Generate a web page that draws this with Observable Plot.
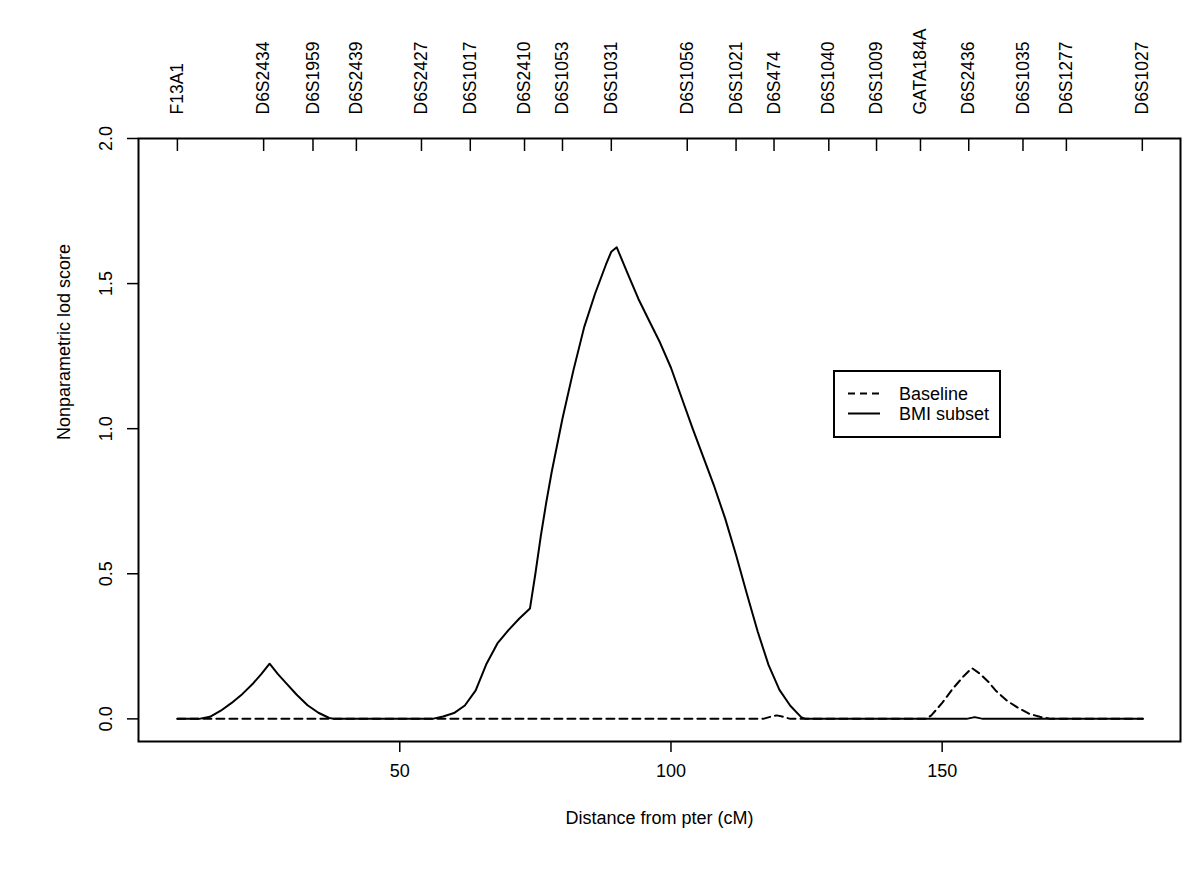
<!DOCTYPE html>
<html>
<head>
<meta charset="utf-8">
<script src="https://cdn.jsdelivr.net/npm/d3@7"></script>
<script src="https://cdn.jsdelivr.net/npm/@observablehq/plot@0.6"></script>
<style>
  body { margin: 0; background: #fff; font-family: "Liberation Sans", Arial, sans-serif; }
  #wrap { position: relative; width: 1200px; height: 872px; }
  #legend { position: absolute; left: 833px; top: 370px; }
</style>
</head>
<body>
<div id="wrap"></div>
<script>
// Marker names and positions (cM)
const markerNames = ["F13A1","D6S2434","D6S1959","D6S2439","D6S2427","D6S1017","D6S2410","D6S1053","D6S1031","D6S1056","D6S1021","D6S474","D6S1040","D6S1009","GATA184A","D6S2436","D6S1035","D6S1277","D6S1027"];
const markerCM = [9.0, 24.9, 34.0, 42.0, 54.0, 63.0, 73.0, 80.0, 89.0, 103.0, 112.0, 119.0, 129.1, 137.9, 146.0, 154.9, 164.9, 172.9, 186.9];

// BMI subset (solid)
const bmiCM  = [9, 13, 15, 17, 19, 21, 23, 24.5, 26, 27.5, 29, 31, 33, 35, 37, 38, 56, 58, 60, 62, 64, 66, 68, 70, 72, 74, 75, 76, 77, 78, 80, 82, 84, 86, 88, 89, 90, 92, 94, 96, 98, 100, 102, 104, 106, 108, 110, 112, 114, 116, 118, 120, 122, 124, 124.8, 154.5, 156, 157.5, 187];
const bmiLod = [0, 0, 0.007, 0.028, 0.055, 0.086, 0.123, 0.155, 0.19, 0.155, 0.124, 0.083, 0.047, 0.021, 0.003, 0, 0, 0.008, 0.02, 0.046, 0.098, 0.19, 0.26, 0.305, 0.345, 0.38, 0.5, 0.63, 0.745, 0.85, 1.035, 1.2, 1.35, 1.465, 1.565, 1.61, 1.625, 1.535, 1.447, 1.371, 1.296, 1.21, 1.105, 1.0, 0.9, 0.8, 0.69, 0.565, 0.43, 0.30, 0.185, 0.10, 0.045, 0.006, 0, 0, 0.006, 0, 0];

// Baseline (dashed)
const baseCM  = [9, 117, 118.5, 119.5, 120.5, 122, 147, 148, 150, 152, 154, 155.5, 157, 158.5, 160, 162, 164, 166, 168, 170, 187];
const baseLod = [0, 0, 0.008, 0.012, 0.008, 0, 0, 0.012, 0.055, 0.105, 0.148, 0.175, 0.155, 0.128, 0.095, 0.062, 0.038, 0.018, 0.007, 0, 0];

const xTicks = [50, 100, 150];
const yTicks = [0, 0.5, 1.0, 1.5, 2.0];
const seriesNames = ["Baseline", "BMI subset"];

const FS = 18;
const chart = Plot.plot({
  width: 1200,
  height: 872,
  marginLeft: 138,
  marginRight: 20,
  marginTop: 138,
  marginBottom: 131,
  style: { fontFamily: '"Liberation Sans", Arial, sans-serif', fontSize: FS + "px", color: "#000", background: "#fff" },
  x: { domain: [1.83, 193.94] },
  y: { domain: [-0.078, 2.0] },
  marks: [
    Plot.axisX(xTicks, { anchor: "bottom", tickSize: 11, tickPadding: 12, strokeWidth: 1.5, fontSize: FS, label: null }),
    Plot.axisY(yTicks, { anchor: "left", tickSize: 11, strokeWidth: 1.5, text: null, label: null }),
    Plot.text(yTicks, { y: d => d, text: d => d.toFixed(1), frameAnchor: "left", dx: -32, rotate: -90, fontSize: FS, lineAnchor: "middle", textAnchor: "middle" }),
    Plot.axisX(markerCM, { anchor: "top", tickSize: -12, strokeWidth: 1.5, text: null, label: null }),
    Plot.text(markerCM, { x: d => d, text: (d, i) => markerNames[i], frameAnchor: "top", dy: -24, rotate: -90, textAnchor: "start", lineAnchor: "middle", fontSize: 17.5 }),
    Plot.text(["Distance from pter (cM)"], { frameAnchor: "bottom", dy: 77, fontSize: FS, lineAnchor: "middle" }),
    Plot.text(["Nonparametric lod score"], { frameAnchor: "left", dx: -74, rotate: -90, fontSize: FS, lineAnchor: "middle" }),
    Plot.line(baseLod, { x: baseCM, y: baseLod, stroke: "#000", strokeWidth: 2, strokeDasharray: "8,5" }),
    Plot.line(bmiLod, { x: bmiCM, y: bmiLod, stroke: "#000", strokeWidth: 2 }),
    Plot.frame({ stroke: "#000", strokeWidth: 2 })
  ]
});
const wrap = document.getElementById("wrap");
wrap.appendChild(chart);

// Legend
const leg = document.createElement("div");
leg.id = "legend";
leg.innerHTML = `<svg width="168" height="68" xmlns="http://www.w3.org/2000/svg" style="font-family:'Liberation Sans',Arial,sans-serif">
  <rect x="1" y="1" width="166" height="66" fill="#fff" stroke="#000" stroke-width="2"/>
  <line x1="15" x2="47" y1="23.5" y2="23.5" stroke="#000" stroke-width="2" stroke-dasharray="7,5"/>
  <line x1="15" x2="47" y1="43.5" y2="43.5" stroke="#000" stroke-width="2"/>
  <text x="66" y="23.5" dy="0.35em" font-size="${FS}" fill="#000">${seriesNames[0]}</text>
  <text x="66" y="43.5" dy="0.35em" font-size="${FS}" fill="#000">${seriesNames[1]}</text>
</svg>`;
wrap.appendChild(leg);
</script>
</body>
</html>
